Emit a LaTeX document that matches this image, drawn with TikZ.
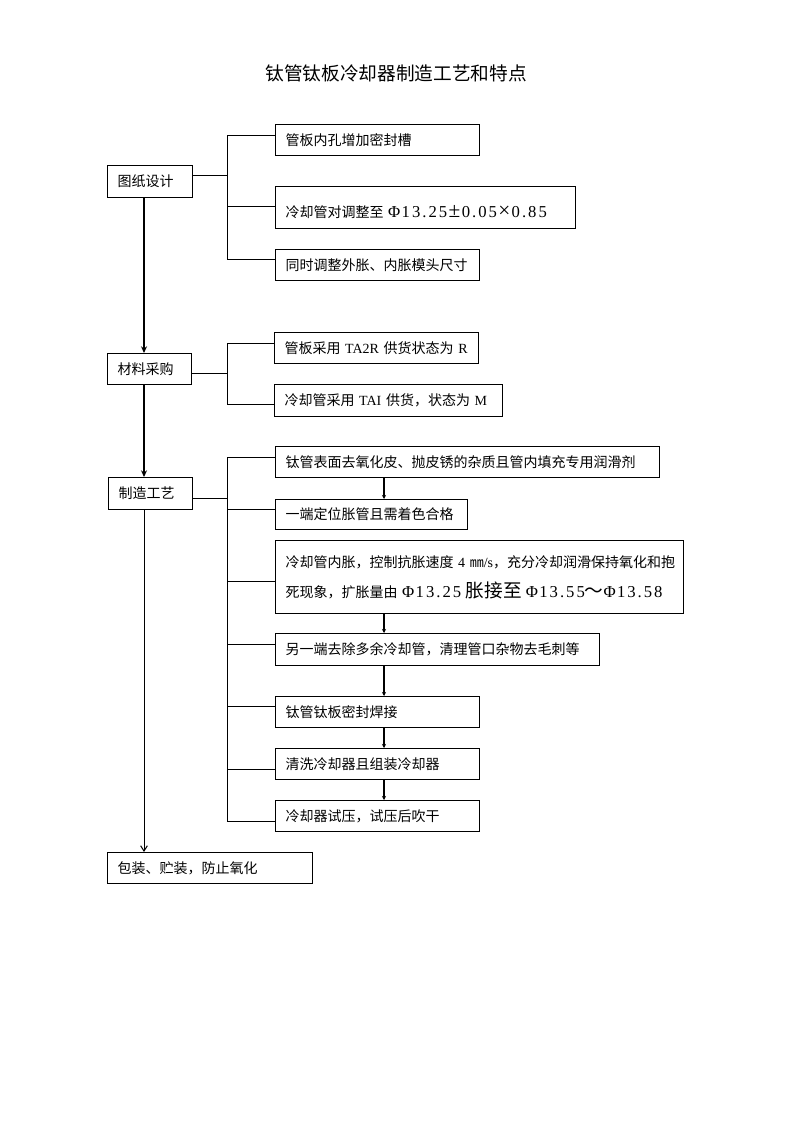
\documentclass[tikz,border=0pt]{standalone}
\usepackage{fontspec}
\setmainfont{Noto Sans CJK SC}
\newfontfamily\tnr{Liberation Serif}
\newfontfamily\tnrw[LetterSpace=12]{Liberation Serif}
\usetikzlibrary{arrows.meta,calc}
\tikzset{
  box/.style={draw, line width=0.75pt, anchor=north west, inner xsep=7.5pt, inner ysep=0pt, align=left, font=\fontsize{10.5pt}{13pt}\selectfont},
  conn/.style={line width=0.75pt},
  tarrow/.style={line width=1.5pt, -{Stealth[length=5pt,width=4.5pt]}},
  narrow/.style={line width=0.75pt, -{Straight Barb[length=4pt,width=5pt]}},
  sarrow/.style={line width=1.5pt, -{Stealth[length=3pt,width=3pt]}}
}
\newcommand\mybox[7][]{%
  \pgfmathsetmacro\bxtw{(#5-20)*0.75}%
  \pgfmathsetmacro\bxw{#5*0.75}%
  \pgfmathsetmacro\bxh{#6*0.75}%
  \node[box, text width=\bxtw pt, minimum width=\bxw pt, minimum height=\bxh pt, #1] (#2) at (#3,#4) {#7};%
}
\newcommand\lgfont{\tnrw\fontsize{12.5pt}{14pt}\selectfont}
\newcommand\lgcjk{\fontsize{14pt}{14pt}\selectfont}
\newcommand\bigsym[1]{\makebox[11pt]{\tnr\fontsize{16pt}{16pt}\selectfont #1}}
\begin{document}
\begin{tikzpicture}[x=0.75pt,y=-0.75pt]
\useasboundingbox (0,0) rectangle (794,1123);
\fill[white] (0,0) rectangle (794,1123);

\node[font=\fontsize{14pt}{16pt}\selectfont] (title) at (396,73) {钛管钛板冷却器制造工艺和特点};

\mybox{g}{107}{165}{85}{32}{图纸设计}
\mybox{g1}{275}{124}{204}{31}{管板内孔增加密封槽}
\mybox{g2}{275}{186}{300}{42}{\raisebox{-3.5pt}[\height][\depth]{冷却管对调整至 {\lgfont Φ\kern1pt 13.25\bigsym{±}0.05\bigsym{×}0.85}}}
\mybox{g3}{275}{249}{204}{31}{同时调整外胀、内胀模头尺寸}

\mybox{m}{107}{353}{84}{31}{材料采购}
\mybox{m1}{274}{332}{204}{31}{管板采用 {\tnr TA2R} 供货状态为 {\tnr R}}
\mybox{m2}{274}{384}{228}{32}{冷却管采用 {\tnr TAI} 供货，状态为 {\tnr M}}

\mybox{z}{108}{477}{84}{32}{制造工艺}
\mybox{z1}{275}{446}{384}{31}{钛管表面去氧化皮、抛皮锈的杂质且管内填充专用润滑剂}
\mybox{z2}{275}{499}{192}{30}{一端定位胀管且需着色合格}
\mybox[font=\fontsize{10.5pt}{22.5pt}\selectfont]{z3}{275}{540}{408}{73}{\mbox{冷却管内胀，控制抗胀速度 {\tnr 4} ㎜{\tnr /s}，充分冷却润滑保持氧化和抱}\\\mbox{死现象，扩胀量由 {\lgfont Φ\kern1pt 13.25} {\lgcjk 胀接至}\kern3pt{\lgfont Φ\kern1pt 13.55}{\lgcjk ～}{\lgfont Φ\kern1pt 13.58}}}
\mybox{z4}{275}{633}{324}{32}{另一端去除多余冷却管，清理管口杂物去毛刺等}
\mybox{z5}{275}{696}{204}{31}{钛管钛板密封焊接}
\mybox{z6}{275}{748}{204}{31}{清洗冷却器且组装冷却器}
\mybox{z7}{275}{800}{204}{31}{冷却器试压，试压后吹干}

\mybox{p}{107}{852}{205}{31}{包装、贮装，防止氧化}

% bracket 1
\coordinate (gj) at (227,176);
\coordinate (gt) at (227,136);
\coordinate (gm) at (227,207);
\coordinate (gb) at (227,259);
\draw[conn] (gj -| g.east) -- (gj);
\draw[conn] (gt) -- (gb);
\draw[conn] (gt) -- (gt -| g1.west);
\draw[conn] (gm) -- (gm -| g2.west);
\draw[conn] (gb) -- (gb -| g3.west);

% bracket 2
\coordinate (mj) at (227,373);
\coordinate (mt) at (227,343);
\coordinate (mb) at (227,404);
\draw[conn] (mj -| m.east) -- (mj);
\draw[conn] (mt) -- (mb);
\draw[conn] (mt) -- (mt -| m1.west);
\draw[conn] (mb) -- (mb -| m2.west);

% bracket 3
\coordinate (zj) at (227,498);
\coordinate (za) at (227,457);
\coordinate (zb) at (227,509);
\coordinate (zc) at (227,581);
\coordinate (zd) at (227,644);
\coordinate (ze) at (227,706);
\coordinate (zf) at (227,769);
\coordinate (zg) at (227,821);
\draw[conn] (zj -| z.east) -- (zj);
\draw[conn] (za) -- (zg);
\draw[conn] (za) -- (za -| z1.west);
\draw[conn] (zb) -- (zb -| z2.west);
\draw[conn] (zc) -- (zc -| z3.west);
\draw[conn] (zd) -- (zd -| z4.west);
\draw[conn] (ze) -- (ze -| z5.west);
\draw[conn] (zf) -- (zf -| z6.west);
\draw[conn] (zg) -- (zg -| z7.west);

% left column
\coordinate (lc) at (144,0);
\draw[tarrow] (lc |- g.south) -- (lc |- m.north);
\draw[tarrow] (lc |- m.south) -- (lc |- z.north);
\draw[narrow] (lc |- z.south) -- (lc |- p.north);

% process column
\coordinate (rc) at (384,0);
\draw[sarrow] (rc |- z1.south) -- (rc |- z2.north);
\draw[sarrow] (rc |- z3.south) -- (rc |- z4.north);
\draw[sarrow] (rc |- z4.south) -- (rc |- z5.north);
\draw[sarrow] (rc |- z5.south) -- (rc |- z6.north);
\draw[sarrow] (rc |- z6.south) -- (rc |- z7.north);
\end{tikzpicture}
\end{document}
